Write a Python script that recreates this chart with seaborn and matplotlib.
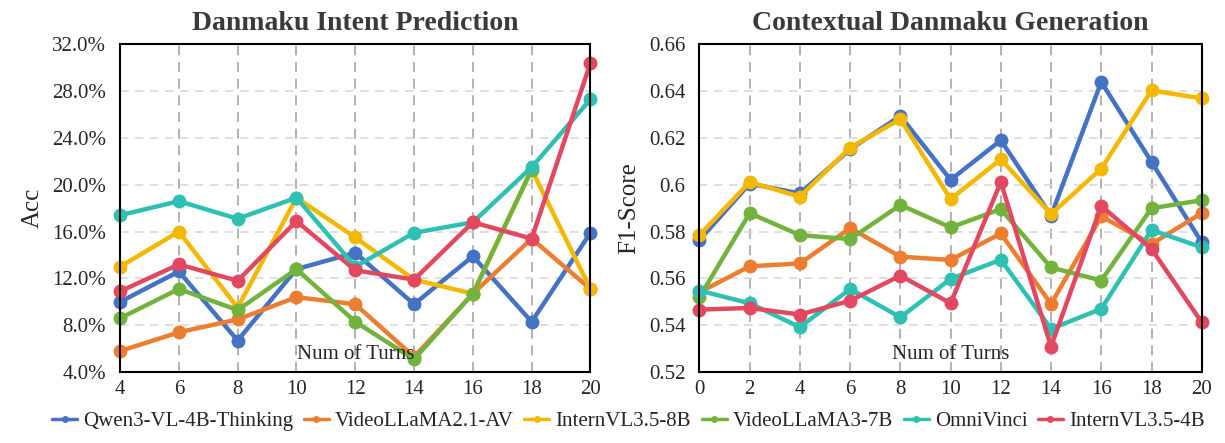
import matplotlib
matplotlib.use("Agg")
import matplotlib.pyplot as plt
import numpy as np
import pandas as pd
import seaborn as sns
from matplotlib.ticker import FuncFormatter

# Models and colours
models = ["Qwen3-VL-4B-Thinking", "VideoLLaMA2.1-AV", "InternVL3.5-8B",
          "VideoLLaMA3-7B", "OmniVinci", "InternVL3.5-4B"]
colors = ["#4472C4", "#ED7D31", "#F5B800", "#72B33D", "#2EC0B2", "#E2485F"]

# Danmaku Intent Prediction (Acc, %)
turns_intent = [4, 6, 8, 10, 12, 14, 16, 18, 20]
acc_qwen = [10.0, 12.6, 6.7, 12.8, 14.2, 9.8, 13.9, 8.3, 15.9]
acc_vl21 = [5.8, 7.4, 8.5, 10.4, 9.8, 5.3, 10.7, 15.4, 11.1]
acc_ivl8 = [13.0, 16.0, 9.5, 18.9, 15.5, 11.9, 10.7, 21.3, 11.1]
acc_vl3 = [8.6, 11.1, 9.3, 12.8, 8.3, 5.1, 10.7, 21.3, np.nan]
acc_omni = [17.4, 18.6, 17.1, 18.9, 13.0, 15.9, 16.8, 21.5, 27.3]
acc_ivl4 = [10.9, 13.2, 11.8, 16.9, 12.7, 11.9, 16.8, 15.4, 30.4]

# Contextual Danmaku Generation (F1-Score)
turns_gen = [0, 2, 4, 6, 8, 10, 12, 14, 16, 18, 20]
f1_qwen = [0.5764, 0.6005, 0.5963, 0.6152, 0.6294, 0.6021, 0.6190, 0.5868, 0.6439, 0.6098, 0.5754]
f1_vl21 = [0.5541, 0.5652, 0.5664, 0.5815, 0.5693, 0.5679, 0.5792, 0.5491, 0.5865, 0.5747, 0.5879]
f1_ivl8 = [0.5785, 0.6012, 0.5949, 0.6159, 0.6280, 0.5939, 0.6109, 0.5875, 0.6069, 0.6403, 0.6369]
f1_vl3 = [0.5520, 0.5879, 0.5785, 0.5768, 0.5914, 0.5818, 0.5896, 0.5647, 0.5591, 0.5900, 0.5934]
f1_omni = [0.5548, 0.5494, 0.5392, 0.5555, 0.5434, 0.5598, 0.5680, 0.5385, 0.5470, 0.5807, 0.5733]
f1_ivl4 = [0.5467, 0.5474, 0.5446, 0.5505, 0.5612, 0.5494, 0.6012, 0.5309, 0.5910, 0.5726, 0.5413]

acc_series = [acc_qwen, acc_vl21, acc_ivl8, acc_vl3, acc_omni, acc_ivl4]
f1_series = [f1_qwen, f1_vl21, f1_ivl8, f1_vl3, f1_omni, f1_ivl4]


def to_long(turns, series, name):
    rows = []
    for m, vals in zip(models, series):
        for t, v in zip(turns, vals):
            rows.append({"turn": t, name: v, "model": m})
    return pd.DataFrame(rows).dropna()


df_acc = to_long(turns_intent, acc_series, "acc")
df_f1 = to_long(turns_gen, f1_series, "f1")

sns.set_style("white")
plt.rcParams["font.family"] = ["Liberation Serif", "DejaVu Serif"]
palette = dict(zip(models, colors))

fig = plt.figure(figsize=(12.25, 4.43), dpi=100)
ax1 = fig.add_axes([0.098, 0.160, 0.384, 0.740])
ax2 = fig.add_axes([0.571, 0.160, 0.410, 0.740])


def style_axes(ax):
    ax.grid(False)
    for xv in ax.get_xticks():
        ax.axvline(xv, color="#A6A6A6", lw=1.2, ls=(0, (6, 4)), zorder=0)
    for yv in ax.get_yticks():
        ax.axhline(yv, color="#D9D9D9", lw=1.2, ls=(0, (5, 4)), zorder=0)
    for s in ax.spines.values():
        s.set_color("black")
        s.set_linewidth(1.5)
    ax.tick_params(axis="x", labelsize=15, length=0, pad=6)
    ax.tick_params(axis="y", labelsize=15, length=0, pad=10)


sns.lineplot(data=df_acc, x="turn", y="acc", hue="model", hue_order=models,
             palette=palette, marker="o", markersize=10, markeredgewidth=0,
             linewidth=3.2, ax=ax1, legend=False, clip_on=False)
ax1.set_xlim(4, 20)
ax1.set_ylim(4, 32)
ax1.set_xticks(turns_intent)
ax1.set_yticks(range(4, 33, 4))
ax1.yaxis.set_major_formatter(FuncFormatter(lambda v, p: f"{v:.1f}%"))
style_axes(ax1)
ax1.set_title("Danmaku Intent Prediction", fontsize=20, fontweight="bold",
              pad=10, color="#3a3a3a")
ax1.set_ylabel("Acc", fontsize=18, labelpad=6)
ax1.set_xlabel("")
ax1.text(0.5, 0.025, "Num of Turns", transform=ax1.transAxes, ha="center",
         va="bottom", fontsize=15)

sns.lineplot(data=df_f1, x="turn", y="f1", hue="model", hue_order=models,
             palette=palette, marker="o", markersize=10, markeredgewidth=0,
             linewidth=3.2, ax=ax2, clip_on=False)
ax2.set_xlim(0, 20)
ax2.set_ylim(0.52, 0.66)
ax2.set_xticks(turns_gen)
ax2.set_yticks([0.52, 0.54, 0.56, 0.58, 0.60, 0.62, 0.64, 0.66])
ax2.yaxis.set_major_formatter(FuncFormatter(lambda v, p: "0.6" if abs(v - 0.6) < 1e-9 else f"{v:.2f}"))
style_axes(ax2)
ax2.set_title("Contextual Danmaku Generation", fontsize=20, fontweight="bold",
              pad=10, color="#3a3a3a")
ax2.set_ylabel("F1-Score", fontsize=18, labelpad=6)
ax2.set_xlabel("")
ax2.text(0.5, 0.025, "Num of Turns", transform=ax2.transAxes, ha="center",
         va="bottom", fontsize=15)

handles, labels = ax2.get_legend_handles_labels()
ax2.get_legend().remove()
for h in handles:
    h.set_linewidth(2.5)
    h.set_markersize(5)
fig.legend(handles, labels, loc="lower center", ncol=6, frameon=False,
           fontsize=15, bbox_to_anchor=(0.513, -0.015), handlelength=1.2,
           handletextpad=0.3, columnspacing=0.5)

fig.savefig("out.png", dpi=100)
